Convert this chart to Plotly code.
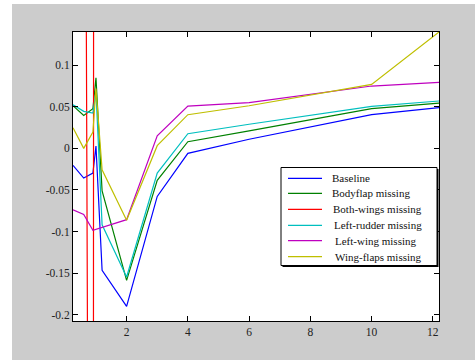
import plotly.graph_objects as go

x_vals = [0.25, 0.6, 0.9, 1.0, 1.2, 2, 3, 4, 6, 10, 12.2]

baseline = [-0.0205, -0.0357, -0.0297, 0.0028, -0.1468, -0.190, -0.0578, -0.0060, 0.011, 0.0405, 0.0489]
bodyflap = [0.0513, 0.0397, 0.0477, 0.085, -0.0513, -0.1588, -0.0385, 0.008, 0.021, 0.0477, 0.0545]
both_wings = [1.5, 1.0, -2.0, 8.0, 6.0, 3.0, 1.5, 1.0, 0.8, 0.6, 0.5]
left_rudder = [0.0525, 0.0445, 0.0425, 0.068, -0.092, -0.1548, -0.0297, 0.0176, 0.029, 0.0505, 0.057]
left_wing = [-0.074, -0.0794, -0.0987, -0.0975, -0.095, -0.0858, 0.0152, 0.0508, 0.055, 0.075, 0.0794]
wing_flaps = [0.0249, 0.0, 0.0197, 0.072, -0.0257, -0.0866, 0.0032, 0.0405, 0.0513, 0.077, 0.14]

series_names = ["Baseline", "Bodyflap missing", "Both-wings missing",
                "Left-rudder missing", "Left-wing missing", "Wing-flaps missing"]
series_data = [baseline, bodyflap, both_wings, left_rudder, left_wing, wing_flaps]
colors = ["#0000ff", "#008000", "#ff0000", "#00bfbf", "#bf00bf", "#bfbf00"]

x_ticks = [2, 4, 6, 8, 10, 12]
y_ticks = [-0.2, -0.15, -0.1, -0.05, 0, 0.05, 0.1]
y_tick_labels = ["-0.2", "-0.15", "-0.1", "-0.05", "0", "0.05", "0.1"]

SERIF = "'Liberation Serif', 'Times New Roman', Times, serif"

fig = go.Figure()
for name, data, c in zip(series_names, series_data, colors):
    fig.add_trace(go.Scatter(x=x_vals, y=data, mode="lines", name=name,
                             line=dict(color=c, width=1.2), showlegend=False))

L, R, T, B = 73, 36, 32, 39
W, H = 475, 360
pw, ph = W - L - R, H - T - B


def px(xp):
    return (xp - L) / pw


def py(yp):
    return 1 - (yp - T) / ph


shapes = [
    dict(type="rect", xref="paper", yref="paper",
         x0=px(-5), x1=px(12), y0=py(365), y1=py(-5),
         fillcolor="white", line=dict(width=0), layer="below"),
    dict(type="rect", xref="paper", yref="paper",
         x0=px(-5), x1=px(480), y0=py(4), y1=py(-5),
         fillcolor="white", line=dict(width=0), layer="below"),
]

# manual legend box (MATLAB style, with shadow on right/bottom)
lx0, lx1, ly0, ly1 = 281, 437, 167.5, 265.5
shapes.append(dict(type="rect", xref="paper", yref="paper",
                   x0=px(lx0 + 1.5), x1=px(lx1 + 1.5), y0=py(ly1 + 1.5), y1=py(ly0 + 1.5),
                   fillcolor="black", line=dict(width=0), layer="above"))
shapes.append(dict(type="rect", xref="paper", yref="paper",
                   x0=px(lx0), x1=px(lx1), y0=py(ly1), y1=py(ly0),
                   fillcolor="white", line=dict(color="black", width=1), layer="above"))

row_y = [178.3, 193.3, 209.3, 225.3, 240.7, 256.7]
text_x = [330, 330, 331, 332, 333, 333]
annotations = []
for name, c, ry, tx in zip(series_names, colors, row_y, text_x):
    shapes.append(dict(type="line", xref="paper", yref="paper",
                       x0=px(288), x1=px(322), y0=py(ry), y1=py(ry),
                       line=dict(color=c, width=1.2), layer="above"))
    annotations.append(dict(x=px(tx), y=py(ry), xref="paper", yref="paper",
                            text=name, showarrow=False, xanchor="left", yanchor="middle",
                            font=dict(family=SERIF, size=11, color="#111111")))

fig.update_layout(
    width=W, height=H,
    margin=dict(l=L, r=R, t=T, b=B, pad=0),
    paper_bgcolor="#cccccc",
    plot_bgcolor="white",
    font=dict(family=SERIF, size=11, color="#222222"),
    showlegend=False,
    shapes=shapes,
    annotations=annotations,
)
fig.update_xaxes(range=[0.25, 12.2], tickvals=x_ticks, ticks="inside", ticklen=5,
                 tickcolor="black", showline=True, linecolor="black", linewidth=1,
                 mirror="ticks", showgrid=False, zeroline=False,
                 tickfont=dict(family=SERIF, size=11.5, color="#222222"))
fig.update_yaxes(range=[-0.2077, 0.14], tickvals=y_ticks, ticktext=y_tick_labels,
                 ticks="inside", ticklen=5, tickcolor="black", showline=True,
                 linecolor="black", linewidth=1, mirror="ticks", showgrid=False,
                 zeroline=False,
                 tickfont=dict(family=SERIF, size=11.5, color="#222222"))

fig.write_html("out.html")
